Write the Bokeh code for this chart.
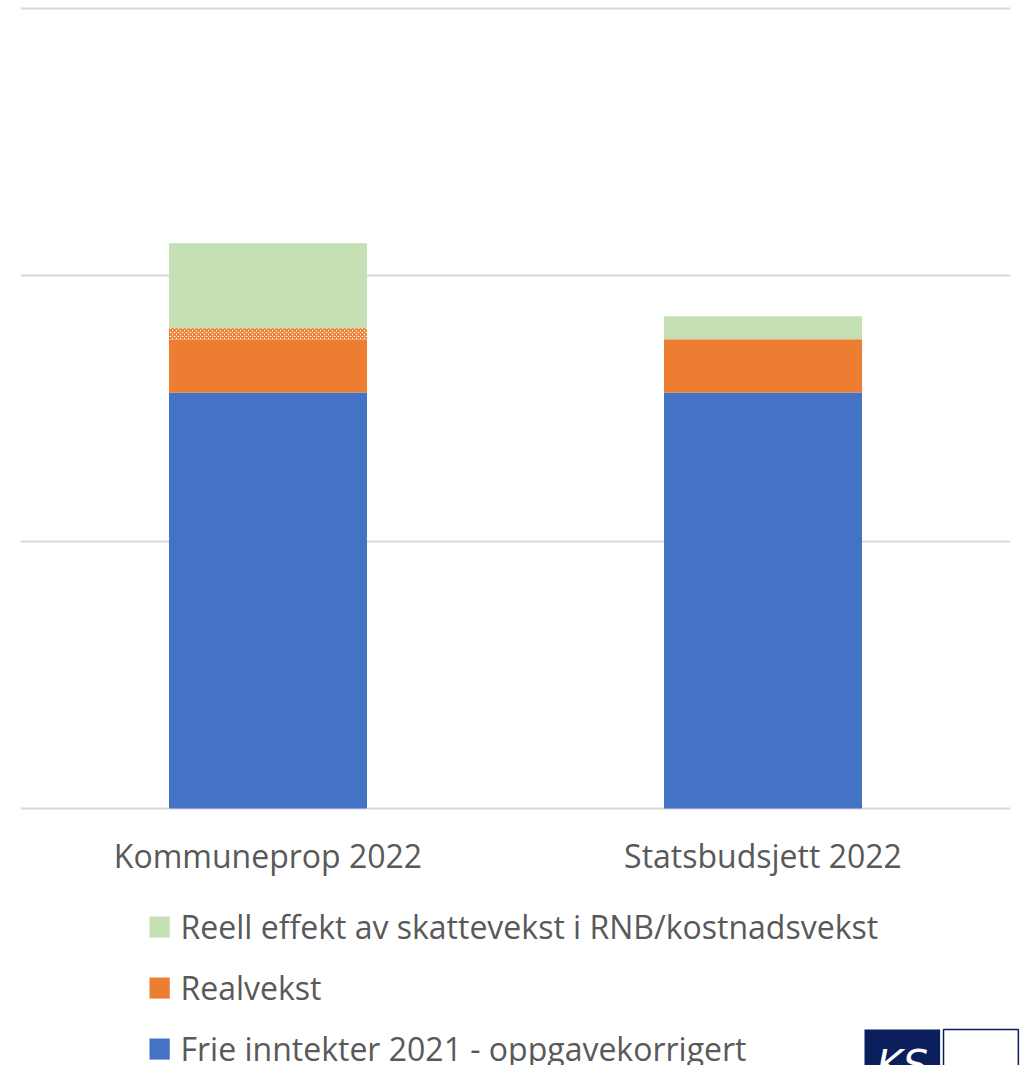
from bokeh.plotting import figure
from bokeh.models import ColumnDataSource, Label, FactorRange
from bokeh.embed import file_html
from bokeh.resources import INLINE

categories = ["Kommuneprop 2022", "Statsbudsjett 2022"]
frie = [1.56, 1.56]
realvekst = [0.20, 0.20]
skraveret = [0.042, 0.0]
reell = [0.318, 0.086]
legend_labels = ["Reell effekt av skattevekst i RNB/kostnadsvekst", "Realvekst", "Frie inntekter 2021 - oppgavekorrigert"]
legend_colors = ["#C5E0B4", "#ED7D31", "#4472C4"]

b1 = frie
t1 = [a + b for a, b in zip(b1, realvekst)]
t2 = [a + b for a, b in zip(t1, skraveret)]
t3 = [a + b for a, b in zip(t2, reell)]
src = ColumnDataSource(dict(x=categories, b0=[0, 0], t0=b1, t1=t1, t2=t2, t3=t3))

FONT = "Open Sans"
TXT = "#595959"
NAVY = "#0b1f5c"

p = figure(x_range=FactorRange(*categories, range_padding=0.0), y_range=(-0.03, 3.03),
           frame_width=990, frame_height=816, output_backend="svg", toolbar_location=None,
           min_border_left=20, min_border_right=10, min_border_top=0, min_border_bottom=249)
p.outline_line_color = None
p.yaxis.visible = False
p.xgrid.visible = False
p.ygrid.ticker = [0, 1, 2, 3]
p.ygrid.grid_line_color = "#d9d9d9"
p.ygrid.grid_line_width = 2

p.xaxis.axis_line_color = None
p.xaxis.major_tick_line_color = None
p.xaxis.minor_tick_line_color = None
p.xaxis.major_label_text_font = FONT
p.xaxis.major_label_text_font_size = "32px"
p.xaxis.major_label_text_color = TXT
p.xaxis.major_label_standoff = 11

p.vbar(x="x", bottom="b0", top="t0", width=0.4, source=src, fill_color=legend_colors[2], line_color=None)
p.vbar(x="x", bottom="t0", top="t1", width=0.4, source=src, fill_color=legend_colors[1], line_color=None)
p.vbar(x="x", bottom="t1", top="t2", width=0.4, source=src, fill_color="white", line_color=None,
       hatch_pattern="diagonal_cross", hatch_color=legend_colors[1], hatch_scale=4, hatch_weight=1.6)
p.vbar(x="x", bottom="t2", top="t3", width=0.4, source=src, fill_color=legend_colors[0], line_color=None)

# legend (drawn as labels below the plot area)
for i, (lab, col) in enumerate(zip(legend_labels, legend_colors)):
    yc = 926 + 61 * i
    p.add_layout(Label(x=149, y=yc - 10, x_units="canvas", y_units="canvas", text=" ",
                       text_font_size="1px", padding=10, background_fill_color=col,
                       text_baseline="top"), "right")
    p.add_layout(Label(x=180, y=yc, x_units="canvas", y_units="canvas", text=lab,
                       text_font=FONT, text_font_size="32px", text_color=TXT,
                       text_baseline="middle"), "right")

# logo (decorative, partly cut off at the bottom edge as in the reference)
p.add_layout(Label(x=864, y=1029, x_units="canvas", y_units="canvas", text="KS", text_color="white",
                   text_font="DejaVu Sans", text_font_style="italic", text_font_size="40px",
                   background_fill_color=NAVY, padding=12, text_baseline="top"), "right")
p.add_layout(Label(x=943, y=1029, x_units="canvas", y_units="canvas", text="    ", text_color=NAVY,
                   text_font="DejaVu Sans", text_font_size="40px", background_fill_color="white",
                   border_line_color=NAVY, border_line_width=1.5, padding=12, text_baseline="top"), "right")

open("out.html", "w").write(file_html(p, INLINE))
